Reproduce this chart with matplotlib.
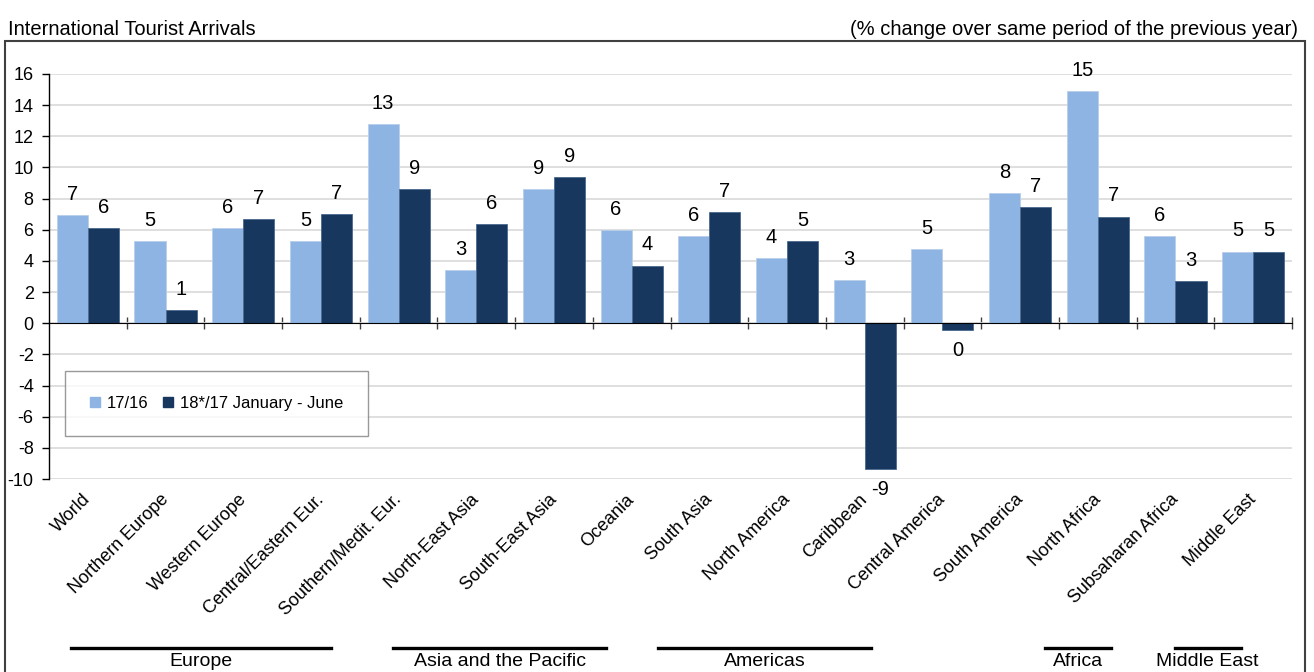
import numpy as np
import matplotlib
matplotlib.use('Agg')
import matplotlib.pyplot as plt
import matplotlib.transforms as mtransforms
from matplotlib.patches import Rectangle, Patch

plt.rcParams['font.family'] = ['Liberation Sans', 'DejaVu Sans']
plt.rcParams['axes.unicode_minus'] = False

# Data
categories = ['World', 'Northern Europe', 'Western Europe', 'Central/Eastern Eur.',
              'Southern/Medit. Eur.', 'North-East Asia', 'South-East Asia', 'Oceania',
              'South Asia', 'North America', 'Caribbean', 'Central America',
              'South America', 'North Africa', 'Subsaharan Africa', 'Middle East']
v_17_16 = [6.95, 5.3, 6.1, 5.3, 12.8, 3.4, 8.6, 6.0, 5.6, 4.2, 2.8, 4.75, 8.35, 14.9, 5.6, 4.6]
v_18_17 = [6.1, 0.85, 6.7, 7.0, 8.6, 6.35, 9.4, 3.7, 7.15, 5.3, -9.35, -0.45, 7.45, 6.85, 2.7, 4.6]
series_names = ['17/16', '18*/17 January - June']

regions = ['Europe', 'Asia and the Pacific', 'Americas', 'Africa', 'Middle East']
region_spans = [(-0.22, 3.13), (3.93, 6.67), (7.34, 10.08), (12.32, 13.17), (13.99, 14.84)]

light = '#8DB4E2'
dark = '#17375E'

fig = plt.figure(figsize=(13.14, 6.72), dpi=100)
ax = fig.add_axes([49 / 1314, 1 - 479 / 672, 1243 / 1314, 405 / 672])

x = np.arange(len(categories))
w = 0.4
b1 = ax.bar(x - w / 2, v_17_16, w, color=light, edgecolor='#B8CFEA', linewidth=0.6, zorder=3)
b2 = ax.bar(x + w / 2, v_18_17, w, color=dark, edgecolor='#4A6A90', linewidth=0.6, zorder=3)

# value labels, rounded like the original
for bars, vals in [(b1, v_17_16), (b2, v_18_17)]:
    for rect, v in zip(bars, vals):
        cx = rect.get_x() + rect.get_width() / 2
        if v >= 0:
            ax.annotate(str(int(round(v))), (cx, v), xytext=(0, 8), textcoords='offset points',
                        ha='center', va='bottom', fontsize=14.5)
        else:
            ax.annotate(str(int(round(v))), (cx, v), xytext=(0, -8), textcoords='offset points',
                        ha='center', va='top', fontsize=14.5)

ax.set_xlim(-0.5, len(categories) - 0.5)
ax.set_ylim(-10, 16)
ax.set_yticks(np.arange(-10, 17, 2))
ax.tick_params(axis='y', labelsize=13, length=5, width=1, direction='out', pad=6)
ax.grid(axis='y', color='#D9D9D9', linewidth=1.2, zorder=0)
ax.set_axisbelow(True)

ax.spines['top'].set_visible(False)
ax.spines['right'].set_visible(False)
ax.spines['bottom'].set_position(('data', 0))
ax.spines['bottom'].set_zorder(4)
ax.spines['left'].set_linewidth(1)
ax.set_xticks(np.arange(0.5, len(categories), 1))
ax.set_xticklabels([])
ax.tick_params(axis='x', direction='inout', length=8, width=1, color='#404040')

# category names sit below the plot, not at the zero line
for i, name in enumerate(categories):
    ax.text(i + 0.08, -0.03, name, transform=ax.get_xaxis_transform(), rotation=45,
            ha='right', va='top', fontsize=13)

leg = ax.legend([Patch(color=light), Patch(color=dark)], series_names,
                loc='upper left', bbox_to_anchor=(0.013, 0.267),
                ncol=2, fontsize=12, frameon=True, fancybox=False, edgecolor='#808080',
                handlelength=0.6, handleheight=0.6, handletextpad=0.4, columnspacing=0.9,
                borderpad=1.5, borderaxespad=0)
leg.get_frame().set_linewidth(1)

# region brackets under the category names
trans = mtransforms.blended_transform_factory(ax.transData, fig.transFigure)
for name, (x0, x1) in zip(regions, region_spans):
    ax.plot([x0, x1], [1 - 648 / 672] * 2, color='black', lw=2.4, transform=trans, clip_on=False)
    ax.text((x0 + x1) / 2, 1 - 653 / 672, name, transform=trans, ha='center', va='top', fontsize=14)

fig.patches.append(Rectangle((5 / 1314, -0.02), 1300 / 1314, 0.02 + 1 - 41 / 672,
                             transform=fig.transFigure, fill=False, edgecolor='#404040', lw=1.5))
fig.text(8 / 1314, 1 - 35 / 672, 'International Tourist Arrivals', fontsize=14.5, va='baseline', ha='left')
fig.text(1298 / 1314, 1 - 35 / 672, '(% change over same period of the previous year)',
         fontsize=14.5, va='baseline', ha='right')

fig.savefig('out.png', dpi=100)
